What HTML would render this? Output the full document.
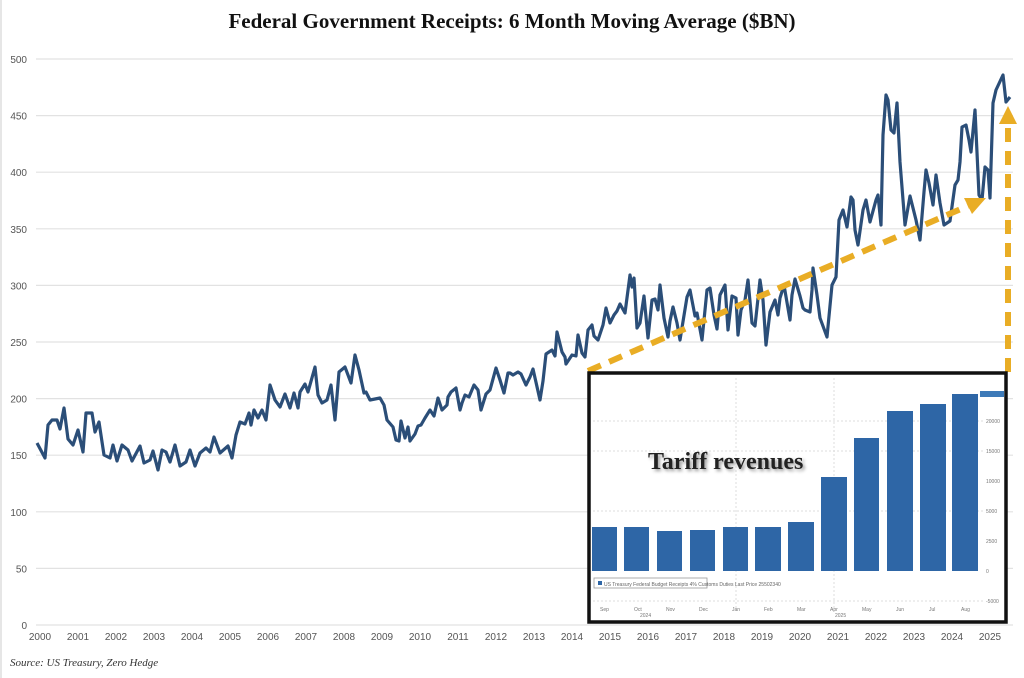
<!DOCTYPE html>
<html><head><style>
body{margin:0;background:#fff;width:1024px;height:678px;overflow:hidden;}
svg{display:block}
</style></head><body>
<svg width="1024" height="678" viewBox="0 0 1024 678" xmlns="http://www.w3.org/2000/svg">
<rect width="1024" height="678" fill="#fff"/>
<line x1="1" y1="0" x2="1" y2="678" stroke="#ccc" stroke-width="1"/>
<text x="512" y="28" text-anchor="middle" font-family="Liberation Serif, serif" font-weight="bold" font-size="21" fill="#111">Federal Government Receipts: 6 Month Moving Average ($BN)</text>
<g stroke="#e2e2e2" stroke-width="1.2">
<line x1="36" y1="59" x2="1013" y2="59"/><line x1="36" y1="115.6" x2="1013" y2="115.6"/><line x1="36" y1="172.2" x2="1013" y2="172.2"/><line x1="36" y1="228.8" x2="1013" y2="228.8"/><line x1="36" y1="285.4" x2="1013" y2="285.4"/><line x1="36" y1="342" x2="1013" y2="342"/><line x1="36" y1="398.6" x2="1013" y2="398.6"/><line x1="36" y1="455.2" x2="1013" y2="455.2"/><line x1="36" y1="511.8" x2="1013" y2="511.8"/><line x1="36" y1="568.4" x2="1013" y2="568.4"/><line x1="36" y1="625" x2="1013" y2="625"/>
</g>
<g font-family="Liberation Sans, sans-serif" font-size="10" fill="#555" text-anchor="end">
<text x="27" y="63">500</text><text x="27" y="119.6">450</text><text x="27" y="176.2">400</text><text x="27" y="232.8">350</text><text x="27" y="289.4">300</text><text x="27" y="346">250</text><text x="27" y="402.6">200</text><text x="27" y="459.2">150</text><text x="27" y="515.8">100</text><text x="27" y="572.4">50</text><text x="27" y="629">0</text>
</g>
<g font-family="Liberation Sans, sans-serif" font-size="10" fill="#555" text-anchor="middle">
<text x="40" y="640">2000</text><text x="78" y="640">2001</text><text x="116" y="640">2002</text><text x="154" y="640">2003</text><text x="192" y="640">2004</text><text x="230" y="640">2005</text><text x="268" y="640">2006</text><text x="306" y="640">2007</text><text x="344" y="640">2008</text><text x="382" y="640">2009</text><text x="420" y="640">2010</text><text x="458" y="640">2011</text><text x="496" y="640">2012</text><text x="534" y="640">2013</text><text x="572" y="640">2014</text><text x="610" y="640">2015</text><text x="648" y="640">2016</text><text x="686" y="640">2017</text><text x="724" y="640">2018</text><text x="762" y="640">2019</text><text x="800" y="640">2020</text><text x="838" y="640">2021</text><text x="876" y="640">2022</text><text x="914" y="640">2023</text><text x="952" y="640">2024</text><text x="990" y="640">2025</text>
</g>
<text x="10" y="666" font-family="Liberation Serif, serif" font-style="italic" font-size="11" fill="#333">Source: US Treasury, Zero Hedge</text>
<polyline fill="none" stroke="#2b4e78" stroke-width="3.2" stroke-linejoin="round" points="37,443 45,458 48,425 52,420 57,420 60,429 64,408 68,439 73,445 78,430 83,452 86,413 92,413 95,432 99,422 104,455 110,458 113,445 117,461 122,445 128,450 132,461 140,446 144,463 150,460 153,451 158,470 162,450 166,452 170,462 175,445 180,466 186,462 190,450 195,466 200,453 206,448 210,452 214,437 220,453 228,446 232,458 236,435 240,422 245,424 249,413 251,425 254,410 258,418 262,410 266,420 270,385 275,400 280,407 285,394 290,408 294,393 298,408 300,392 305,384 308,392 315,367 318,395 322,403 327,400 331,385 335,420 339,372 345,367 351,383 355,355 359,370 364,393 366,392 370,400 375,399 380,398 384,405 387,420 393,427 396,440 399,441 401,421 405,438 408,427 410,441 415,434 418,426 421,425 425,418 430,410 434,416 438,398 442,410 447,405 448,397 451,392 456,388 460,410 462,403 465,395 469,397 474,385 478,390 481,410 486,394 490,390 496,368 500,380 504,393 508,373 510,373 513,375 518,372 521,374 526,385 530,377 533,369 540,400 543,381 546,354 552,350 555,356 557,332 562,352 565,357 566,364 572,355 576,356 578,335 582,353 585,357 588,330 592,325 594,336 598,340 603,325 606,308 610,323 614,315 617,311 620,304 625,313 630,275 632,287 634,278 637,328 640,323 644,296 648,338 652,300 655,299 658,310 660,285 664,318 668,337 670,321 673,307 677,323 680,340 687,297 690,290 695,316 697,313 702,340 707,290 710,288 714,315 717,329 720,295 725,285 728,330 732,296 736,298 738,335 741,310 745,300 748,280 752,323 755,326 760,280 763,300 766,345 770,312 775,300 778,315 780,298 784,285 790,320 792,295 795,279 800,296 803,308 805,310 810,312 812,290 813,268 817,295 820,318 827,337 832,285 836,277 839,220 843,210 847,227 851,197 853,200 855,230 858,245 863,210 866,200 870,222 876,200 878,195 881,225 883,135 886,95 888,100 891,130 894,133 897,103 900,162 905,225 910,196 916,220 920,240 924,192 926,170 929,183 933,205 936,175 940,203 944,225 950,221 955,185 958,180 960,162 962,127 966,125 969,140 971,152 975,110 979,195 982,200 985,167 988,170 990,198 993,103 996,90 1003,75 1006,102 1010,97"/>
<line x1="588" y1="371" x2="970" y2="205" stroke="#e9ad25" stroke-width="6" stroke-dasharray="14,9"/>
<polygon points="986,198 964,198 972,214" fill="#e9ad25"/>
<line x1="1008" y1="372" x2="1008" y2="120" stroke="#e9ad25" stroke-width="6" stroke-dasharray="14,9"/>
<polygon points="1008,106 999,124 1017,124" fill="#e9ad25"/>
<!-- inset -->
<rect x="589" y="373" width="417" height="249" fill="#fff" stroke="#111" stroke-width="3.5"/>
<g stroke="#ddd" stroke-width="1" stroke-dasharray="2,2">
<line x1="593" y1="421" x2="983" y2="421"/><line x1="593" y1="451" x2="983" y2="451"/><line x1="593" y1="511" x2="983" y2="511"/><line x1="593" y1="601" x2="983" y2="601"/>
<line x1="736" y1="378" x2="736" y2="610"/><line x1="834" y1="378" x2="834" y2="610"/>
</g>
<g fill="#2e66a6">
<rect x="592" y="527" width="25" height="44"/><rect x="624" y="527" width="25" height="44"/><rect x="657" y="531" width="25" height="40"/><rect x="690" y="530" width="25" height="41"/><rect x="723" y="527" width="25" height="44"/><rect x="755" y="527" width="26" height="44"/><rect x="788" y="522" width="26" height="49"/><rect x="821" y="477" width="26" height="94"/><rect x="854" y="438" width="25" height="133"/><rect x="887" y="411" width="26" height="160"/><rect x="920" y="404" width="26" height="167"/><rect x="952" y="394" width="26" height="177"/>
</g>
<rect x="980" y="391" width="24" height="6" fill="#3d7ab8"/>
<rect x="594" y="578" width="113" height="10" fill="#fff" stroke="#999" stroke-width="0.8"/>
<rect x="598" y="581" width="4" height="4" fill="#2e66a6"/>
<text x="604" y="586" font-family="Liberation Sans, sans-serif" font-size="5" fill="#666">US Treasury Federal Budget Receipts 4% Customs Duties   Last Price 25502340</text>
<g font-family="Liberation Sans, sans-serif" font-size="5" fill="#777">
<text x="986" y="423">20000</text><text x="986" y="453">15000</text><text x="986" y="483">10000</text><text x="986" y="513">5000</text><text x="986" y="543">2500</text><text x="986" y="573">0</text><text x="986" y="603">-5000</text>
<text x="600" y="611">Sep</text><text x="634" y="611">Oct</text><text x="666" y="611">Nov</text><text x="699" y="611">Dec</text><text x="732" y="611">Jan</text><text x="764" y="611">Feb</text><text x="797" y="611">Mar</text><text x="830" y="611">Apr</text><text x="862" y="611">May</text><text x="896" y="611">Jun</text><text x="929" y="611">Jul</text><text x="961" y="611">Aug</text>
<text x="640" y="617">2024</text><text x="835" y="617">2025</text>
</g>
<text x="648" y="469" font-family="Liberation Serif, serif" font-weight="bold" font-size="24" fill="#222" style="text-shadow:2px 2px 3px #999">Tariff revenues</text>
</svg>
</body></html>
